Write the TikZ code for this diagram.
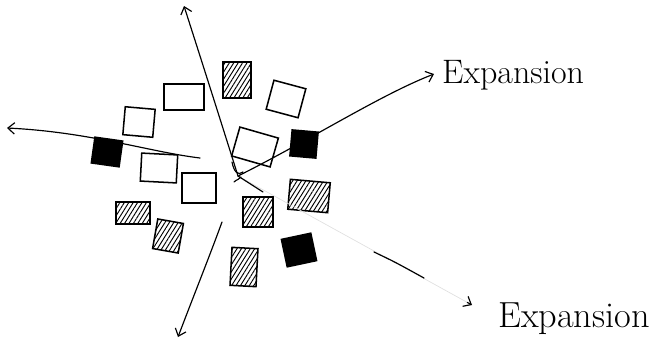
\documentclass[tikz,border=0pt]{standalone}
\usetikzlibrary{arrows.meta,patterns.meta,calc}
\begin{document}
\begin{tikzpicture}[x=0.03cm,y=-0.03cm,
  sq/.style={draw=black,line width=1.3pt,inner sep=0pt,rectangle},
  emptysq/.style={sq},
  hatchsq/.style={sq,pattern={Lines[angle=58,distance=3.2pt,line width=0.8pt]}},
  blacksq/.style={sq,fill=black},
  conn/.style={line width=1pt,line cap=round},
  arr/.style={conn,-{Straight Barb[length=2mm,width=3.4mm,line width=1pt]}},
  faint/.style={line width=0.6pt,draw=black!12},
  lbl/.style={inner sep=0pt,anchor=base west,font=\fontsize{29}{30}\selectfont}]
\useasboundingbox (0,0) rectangle (670,352);
% squares
\node[hatchsq,minimum width=0.84cm,minimum height=1.08cm] (s1) at (237,80) {};
\node[emptysq,minimum width=1.2cm,minimum height=0.78cm] (s2) at (184,97) {};
\node[emptysq,minimum width=0.99cm,minimum height=0.9cm,rotate=-15] (s3) at (286,99) {};
\node[emptysq,minimum width=0.9cm,minimum height=0.84cm,rotate=-5] (s4) at (139,122) {};
\node[blacksq,minimum width=0.84cm,minimum height=0.78cm,rotate=-8] (s5) at (107,152) {};
\node[emptysq,minimum width=1.2cm,minimum height=0.9cm,rotate=-16] (s6) at (255,147) {};
\node[blacksq,minimum width=0.78cm,minimum height=0.78cm,rotate=-5] (s7) at (304,144) {};
\node[emptysq,minimum width=1.08cm,minimum height=0.84cm,rotate=-3] (s8) at (159,168) {};
\node[emptysq,minimum width=1.02cm,minimum height=0.9cm] (s9) at (199,188) {};
\node[hatchsq,minimum width=1.02cm,minimum height=0.66cm] (s10) at (133,213) {};
\node[hatchsq,minimum width=0.78cm,minimum height=0.9cm,rotate=-10] (s11) at (168,236) {};
\node[hatchsq,minimum width=0.9cm,minimum height=0.9cm] (s12) at (258,212) {};
\node[hatchsq,minimum width=1.2cm,minimum height=0.9cm,rotate=-5] (s13) at (309,196) {};
\node[blacksq,minimum width=0.9cm,minimum height=0.84cm,rotate=12] (s14) at (299,250) {};
\node[hatchsq,minimum width=0.78cm,minimum height=1.14cm,rotate=-3] (s15) at (244,267) {};
% labels
\node[lbl] (e1) at (442,83) {Expansion};
\node[lbl,font=\fontsize{31}{32}\selectfont] (e2) at (498,327) {Expansion};
% connector points
\coordinate (c) at (238,176);
\coordinate (tTop) at (184,6);
\coordinate (tR) at (434,74);
\coordinate (lS) at (200,158);
\coordinate (tL) at (7,128);
\coordinate (bS) at (222,222);
\coordinate (tB) at (178,337);
\coordinate (brA) at (263,192);
\coordinate (brB) at (374,252);
\coordinate (brC) at (424,278);
\coordinate (tBR) at (472,305);
% arrows
\draw[arr] (c) .. controls (222,125) and (202,62) .. (tTop);
\draw[arr] (c) .. controls (310,140) and (380,95) .. (tR);
\draw[arr] (lS) .. controls (150,152) and (90,132) .. (tL);
\draw[arr] (bS) .. controls (210,255) and (192,300) .. (tB);
\draw[faint] (c) -- (tBR);
\draw[conn] (c) -- (brA);
\draw[conn] (brB) .. controls (395,262) .. (brC);
\draw[arr] ($(tBR)!0.02!(c)$) -- (tBR);
% centre scribble
\draw[conn] (232,162) .. controls (234,172) and (238,176) .. (243,172);
\draw[conn] (234,182) .. controls (237,179) and (239,180) .. (241,177);
\end{tikzpicture}
\end{document}
